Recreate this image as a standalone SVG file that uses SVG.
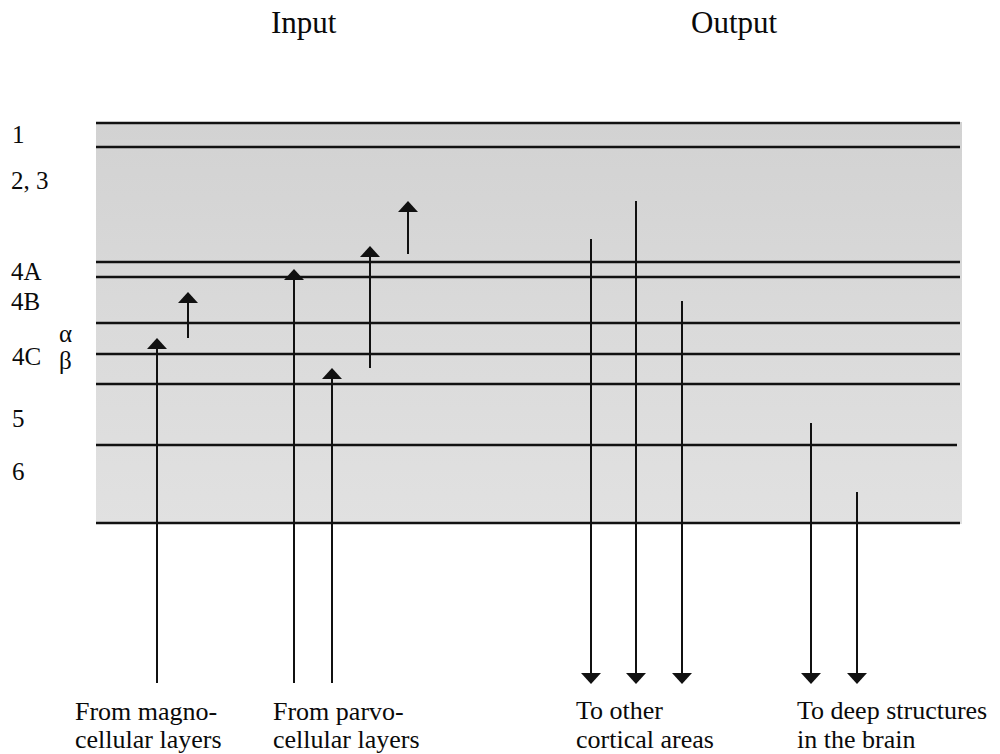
<svg xmlns="http://www.w3.org/2000/svg" width="1000" height="754" viewBox="0 0 1000 754">
  <style>
    .t { font-family: "Liberation Serif", "Times New Roman", serif; fill: #0a0a0a; }
    .hd { font-size: 31px; }
    .lb { font-size: 25px; }
    .bt { font-size: 26px; }
    .layer { stroke: #111; stroke-width: 2.6; }
    .ax { stroke: #111; stroke-width: 2; fill: none; marker-end: url(#head); }
  </style>
  <defs>
    <linearGradient id="band" x1="0" y1="0" x2="0" y2="1">
      <stop offset="0" stop-color="#d2d2d2"/>
      <stop offset="0.5" stop-color="#dadada"/>
      <stop offset="1" stop-color="#e1e1e1"/>
    </linearGradient>
    <marker id="head" markerUnits="userSpaceOnUse" markerWidth="12" markerHeight="20" refX="9" refY="10" orient="auto" viewBox="0 0 12 20">
      <path d="M0,0 L11,10 L0,20 Z" fill="#111"/>
    </marker>
  </defs>
  <rect width="1000" height="754" fill="#ffffff"/>

  <g id="cortex">
    <rect x="96" y="122" width="866" height="402" fill="url(#band)"/>
    <g id="layer-lines">
      <line class="layer" x1="96" y1="123" x2="960" y2="123"/>
      <line class="layer" x1="96" y1="147" x2="960" y2="147"/>
      <line class="layer" x1="96" y1="262" x2="960" y2="262"/>
      <line class="layer" x1="96" y1="277" x2="960" y2="277"/>
      <line class="layer" x1="96" y1="323" x2="960" y2="323"/>
      <line class="layer" x1="96" y1="354" x2="960" y2="354"/>
      <line class="layer" x1="96" y1="384" x2="960" y2="384"/>
      <line class="layer" x1="96" y1="445" x2="957" y2="445"/>
      <line class="layer" x1="96" y1="523" x2="960" y2="523"/>
    </g>
  </g>

  <g id="headers">
    <text class="t hd" x="271" y="33">Input</text>
    <text class="t hd" x="691" y="33">Output</text>
  </g>

  <g id="layer-labels">
    <text class="t lb" x="12" y="143">1</text>
    <text class="t lb" x="11" y="189">2, 3</text>
    <text class="t lb" x="11" y="280">4A</text>
    <text class="t lb" x="11" y="310">4B</text>
    <text class="t lb" x="59" y="342">α</text>
    <text class="t lb" x="12" y="365">4C</text>
    <text class="t lb" x="59" y="369">β</text>
    <text class="t lb" x="12" y="427">5</text>
    <text class="t lb" x="12" y="480">6</text>
  </g>

  <g id="connectors">
    <line class="ax" x1="157" y1="683" x2="157" y2="340"/>
    <line class="ax" x1="188" y1="338" x2="188" y2="294"/>
    <line class="ax" x1="294" y1="683" x2="294" y2="271"/>
    <line class="ax" x1="332" y1="683" x2="332" y2="370"/>
    <line class="ax" x1="370" y1="368" x2="370" y2="248"/>
    <line class="ax" x1="408" y1="254" x2="408" y2="203"/>
    <line class="ax" x1="591" y1="239" x2="591" y2="682"/>
    <line class="ax" x1="636" y1="201" x2="636" y2="682"/>
    <line class="ax" x1="682" y1="301" x2="682" y2="682"/>
    <line class="ax" x1="811" y1="423" x2="811" y2="682"/>
    <line class="ax" x1="857" y1="492" x2="857" y2="682"/>
  </g>

  <g id="label-magno">
    <text class="t bt" x="75" y="720">From magno-</text>
    <text class="t bt" x="75" y="748">cellular layers</text>
  </g>
  <g id="label-parvo">
    <text class="t bt" x="273" y="720">From parvo-</text>
    <text class="t bt" x="273" y="748">cellular layers</text>
  </g>
  <g id="label-cortical">
    <text class="t bt" x="576" y="719">To other</text>
    <text class="t bt" x="576" y="748">cortical areas</text>
  </g>
  <g id="label-deep">
    <text class="t bt" x="797" y="719">To deep structures</text>
    <text class="t bt" x="797" y="748">in the brain</text>
  </g>
</svg>
